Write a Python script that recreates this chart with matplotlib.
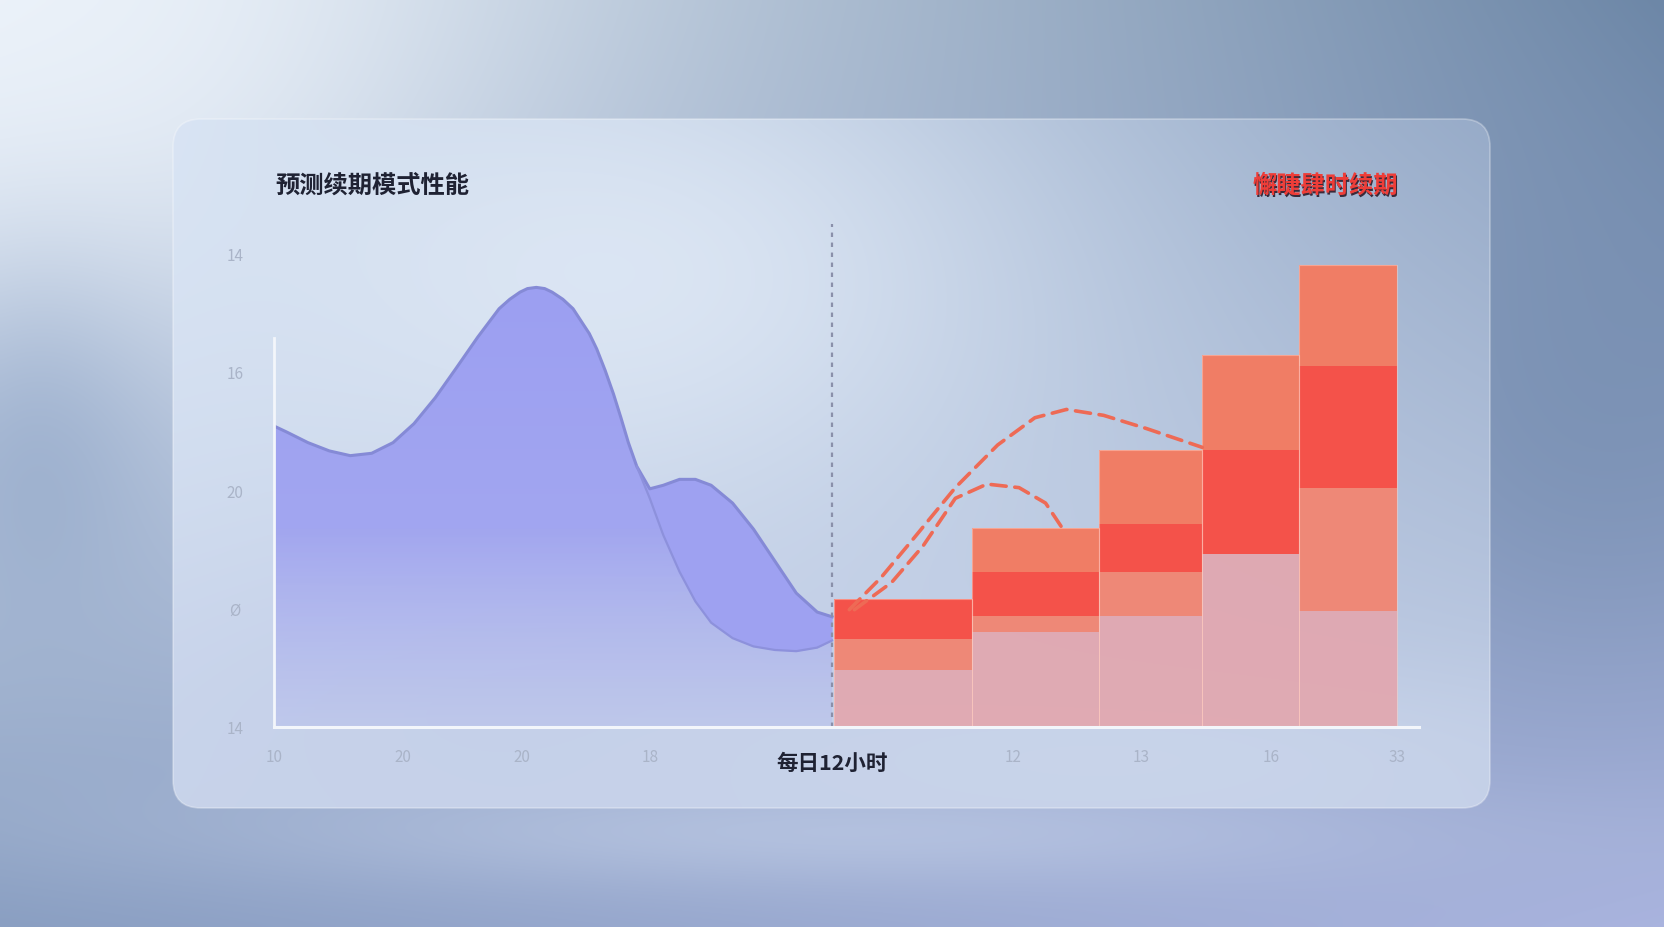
import numpy as np
import matplotlib
matplotlib.use('Agg')
import matplotlib.pyplot as plt
from matplotlib.patches import FancyBboxPatch
from matplotlib.colors import to_rgb, to_rgba

plt.rcParams['font.family'] = ['Noto Sans CJK SC', 'DejaVu Sans']

# ---------------- data ----------------
title_left = '预测续期模式性能'
title_right = '懈睫肆时续期'
center_label = '每日12小时'
split_hour = 12

xtick_pos = [0, 2.78, 5.32, 8.08, 15.9, 18.64, 21.45, 24.14]
xtick_labels = ['10', '20', '20', '18', '12', '13', '16', '33']
ytick_pos = [0, 1, 2, 3, 4]
ytick_labels = ['14', 'Ø', '20', '16', '14']

area_x = [0.00, 0.27, 0.73, 1.19, 1.64, 2.10, 2.56, 3.01, 3.47, 3.92, 4.38,
          4.84, 5.07, 5.29, 5.45, 5.64, 5.82, 5.98, 6.21, 6.43, 6.78, 6.94,
          7.12, 7.30, 7.46, 7.62, 7.80, 8.08, 8.37,
          8.72, 9.06, 9.40, 9.86, 10.31, 10.77, 11.23, 11.68, 12.0]
area_y = [2.54, 2.49, 2.40, 2.33, 2.29, 2.31, 2.40, 2.56, 2.78, 3.03, 3.29,
          3.53, 3.61, 3.67, 3.70, 3.71, 3.70, 3.67, 3.61, 3.53, 3.32, 3.19,
          3.01, 2.81, 2.61, 2.40, 2.20, 2.01, 2.04,
          2.09, 2.09, 2.04, 1.89, 1.67, 1.40, 1.13, 0.97, 0.93]
ribbon_x = [7.80, 8.08, 8.37, 8.72, 9.06, 9.40, 9.86, 10.31, 10.77, 11.23, 11.68, 12.0]
ribbon_top = [2.20, 2.01, 2.04, 2.09, 2.09, 2.04, 1.89, 1.67, 1.40, 1.13, 0.97, 0.93]
ribbon_low = [2.20, 1.93, 1.62, 1.31, 1.06, 0.88, 0.75, 0.68, 0.65, 0.64, 0.67, 0.73]

bar_left = [12.05, 15.0, 17.75, 19.95, 22.05]
bar_right = [15.0, 17.75, 19.95, 22.05, 24.14]
seg_pink = [0.48, 0.80, 0.94, 1.46, 0.98]
seg_coral_low = [0.26, 0.14, 0.37, 0.0, 1.04]
seg_red = [0.34, 0.37, 0.40, 0.88, 1.03]
seg_coral_top = [0.0, 0.37, 0.63, 0.80, 0.85]

dashA_x = [12.37, 13.05, 13.73, 14.65, 15.56, 16.36, 17.04, 17.84, 18.75, 19.96]
dashA_y = [0.99, 1.26, 1.58, 2.02, 2.38, 2.61, 2.68, 2.63, 2.52, 2.36]
dashB_x = [12.48, 13.28, 13.96, 14.65, 15.33, 16.02, 16.59, 16.93]
dashB_y = [0.99, 1.22, 1.53, 1.93, 2.05, 2.02, 1.89, 1.69]

# ---------------- figure ----------------
W, H = 1664, 928
fig = plt.figure(figsize=(W / 100, H / 100), dpi=100)


def bilinear(tl, tr, bl, br, h, w):
    tl, tr, bl, br = [np.array(to_rgb(c)) for c in (tl, tr, bl, br)]
    u = np.linspace(0, 1, w)[None, :, None]
    v = np.linspace(0, 1, h)[:, None, None]
    return (1 - u) * (1 - v) * tl + u * (1 - v) * tr + (1 - u) * v * bl + u * v * br


def blob(img, cx, cy, sx, sy, color, weight):
    h, w, _ = img.shape
    u = np.linspace(0, 1, w)[None, :]
    v = np.linspace(0, 1, h)[:, None]
    g = np.exp(-(((u - cx) / sx) ** 2 + ((v - cy) / sy) ** 2)) * weight
    c = np.array(to_rgb(color))
    return img * (1 - g[..., None]) + c * g[..., None]


ax_bg = fig.add_axes([0, 0, 1, 1])
ax_bg.set_xlim(0, W)
ax_bg.set_ylim(H, 0)
ax_bg.axis('off')

bg = bilinear('#e8f0f9', '#6d87a7', '#8a9fc2', '#aab4df', 232, 416)
bg = blob(bg, 0.05, 0.05, 0.22, 0.3, '#edf3fa', 0.7)
bg = blob(bg, 0.02, 0.5, 0.08, 0.2, '#8ea4c6', 0.6)
bg = blob(bg, 0.5, 0.9, 0.35, 0.06, '#c9d5ec', 0.5)
bg = blob(bg, 0.95, 0.45, 0.15, 0.3, '#6f89aa', 0.5)
ax_bg.imshow(np.clip(bg, 0, 1), extent=(0, W, H, 0), aspect='auto',
             interpolation='bicubic', zorder=0)

cx0, cy0, cw, ch = 173, 120, 1317, 689
card = FancyBboxPatch((cx0, cy0), cw, ch, boxstyle='round,pad=0,rounding_size=28',
                      facecolor='none', edgecolor=(1, 1, 1, 0.3), lw=1.2, zorder=2)
ax_bg.add_patch(card)
cimg = bilinear('#d7e3f3', '#97abc8', '#c8d4ea', '#c3cfe7', 138, 264)
cimg = blob(cimg, 0.35, 0.22, 0.3, 0.35, '#e3ecf8', 0.75)
cimg = blob(cimg, 0.25, 0.85, 0.3, 0.2, '#c3cde9', 0.5)
cimg = blob(cimg, 0.75, 0.92, 0.35, 0.12, '#ccd7ec', 0.6)
im = ax_bg.imshow(np.clip(cimg, 0, 1), extent=(cx0, cx0 + cw, cy0 + ch, cy0),
                  aspect='auto', interpolation='bicubic', zorder=1)
im.set_clip_path(card)

ax_bg.text(275, 186, title_left, fontsize=17.5, fontweight='bold', color='#1f2233',
           ha='left', va='center', zorder=5)
ax_bg.text(1399.5, 187.5, title_right, fontsize=17.5, fontweight='bold', color='#3a2a3a',
           ha='right', va='center', zorder=5)
ax_bg.text(1398, 186, title_right, fontsize=17.5, fontweight='bold', color='#ee3d38',
           ha='right', va='center', zorder=6)

# ---------------- main axes ----------------
ax = fig.add_axes([274 / W, 200 / H, (1419 - 274) / W, (728 - 225) / H])
ax.patch.set_alpha(0)
ax.set_xlim(0, 24.62)
ax.set_ylim(0, 4.245)

# area with vertical gradient
poly = ax.fill_between(area_x, 0, area_y, color='none', lw=0)
grad = np.zeros((256, 1, 4))
tv = np.linspace(1, 0, 256)  # top -> bottom
top_c = np.array(to_rgba('#9c9ff2'))
mid_c = np.array(to_rgba('#a2a6f0'))
bot_c = np.array(to_rgba('#b7bfec', 0.5))
for i, t in enumerate(tv):
    if t > 0.45:
        grad[i, 0] = mid_c + (top_c - mid_c) * (t - 0.45) / 0.55
    else:
        grad[i, 0] = bot_c + (mid_c - bot_c) * t / 0.45
gim = ax.imshow(grad, extent=(0, split_hour, 0, max(area_y)), aspect='auto',
                origin='upper', zorder=2, interpolation='bilinear')
gim.set_clip_path(poly.get_paths()[0], transform=ax.transData)
ax.fill_between(ribbon_x, ribbon_low, ribbon_top, color='#9ea1f1', lw=0, zorder=3)
ax.plot(area_x, area_y, color='#858ad6', lw=2.2, zorder=4, solid_joinstyle='round')
ax.plot(ribbon_x, ribbon_low, color='#8d91dc', lw=1.6, zorder=4, solid_joinstyle='round')

# stacked bars
widths = [r - l for l, r in zip(bar_left, bar_right)]
bottom = np.zeros(len(bar_left))
for seg, col, a in [(seg_pink, '#e3a6ae', 0.9), (seg_coral_low, '#ee8877', 1),
                    (seg_red, '#f4524a', 1), (seg_coral_top, '#f07d65', 1)]:
    ax.bar(bar_left, seg, width=widths, bottom=bottom, align='edge',
           color=col, alpha=a, lw=0, zorder=3)
    bottom += np.array(seg)
ax.bar(bar_left, bottom, width=widths, align='edge', facecolor='none',
       edgecolor=(1, 0.8, 0.75, 0.5), lw=0.8, zorder=4)

# dashed forecast curves
for xs, ys in [(dashA_x, dashA_y), (dashB_x, dashB_y)]:
    ax.plot(xs, ys, color='#ee6a55', lw=2.6, ls=(0, (4.2, 2.4)), zorder=5,
            dash_capstyle='round', solid_joinstyle='round')

# split line
ax.axvline(split_hour, ymin=0, ymax=1, color='#8a90aa', lw=1.6,
           ls=(0, (2, 2.5)), zorder=6)

# spines
for s in ['top', 'right']:
    ax.spines[s].set_visible(False)
ax.spines['left'].set_bounds(0, 3.28)
ax.spines['left'].set_color('#f3f6fb')
ax.spines['left'].set_linewidth(2)
ax.spines['bottom'].set_color('#f3f6fb')
ax.spines['bottom'].set_linewidth(2.2)
ax.spines['left'].set_zorder(7)
ax.spines['bottom'].set_zorder(7)

ax.set_xticks(xtick_pos)
ax.set_xticklabels(xtick_labels)
ax.set_yticks(ytick_pos)
ax.set_yticklabels(ytick_labels)
ax.tick_params(axis='both', length=0, labelsize=11, labelcolor='#aab4c8')
ax.tick_params(axis='x', pad=15)
ax.tick_params(axis='y', pad=28)
for lab in ax.get_yticklabels():
    lab.set_ha('center')

ax.text(split_hour, -0.3, center_label, fontsize=15.5, fontweight='bold',
        color='#1f2233', ha='center', va='center')

fig.savefig('out.png', dpi=100)
